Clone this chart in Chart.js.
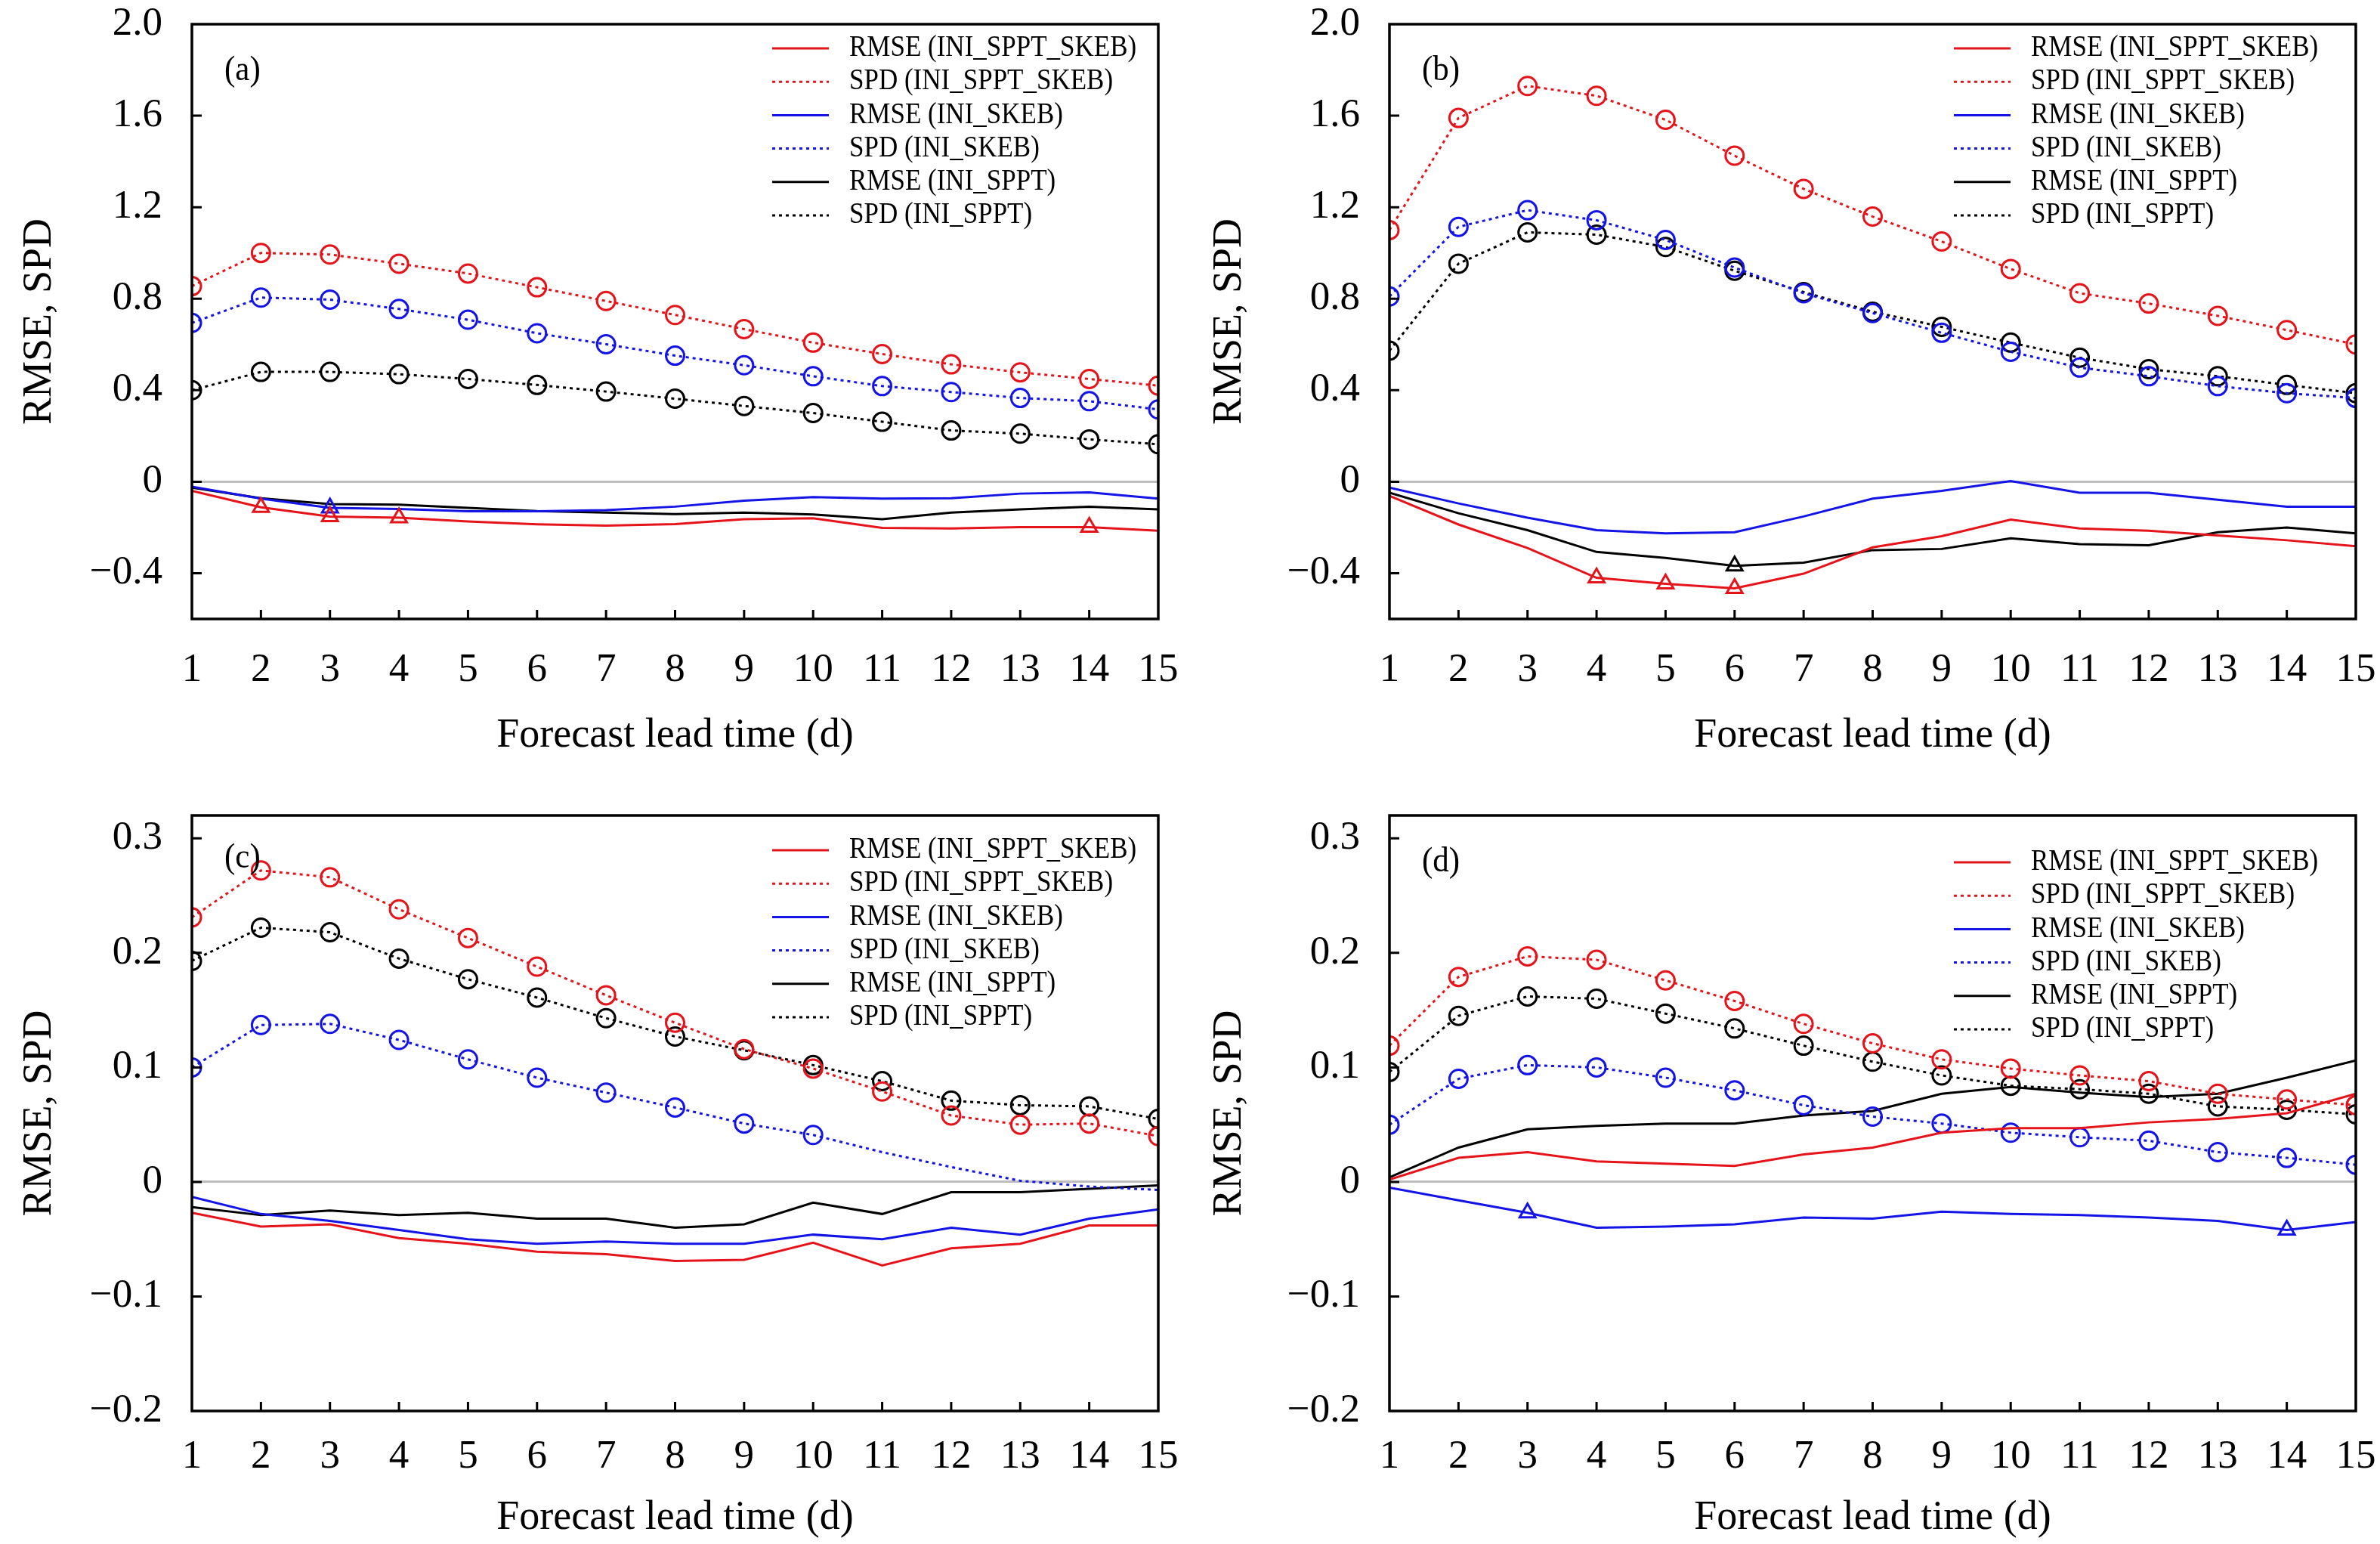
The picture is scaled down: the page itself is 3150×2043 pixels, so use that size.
<!DOCTYPE html>
<html>
<head>
<meta charset="utf-8">
<script src="https://cdn.jsdelivr.net/npm/chart.js@4.4.1/dist/chart.umd.min.js"></script>
<style>
  html, body { margin:0; padding:0; background:#fff; overflow:hidden; }
  canvas { position:absolute; }
</style>
</head>
<body>
<canvas id="pa" width="1575" height="1021" style="left:0;top:0"></canvas>
<canvas id="pb" width="1575" height="1021" style="left:1575px;top:0"></canvas>
<canvas id="pc" width="1575" height="1022" style="left:0;top:1021px"></canvas>
<canvas id="pd" width="1575" height="1022" style="left:1575px;top:1021px"></canvas>
<script>
/* ---------- data ---------- */
const leadDays = [1,2,3,4,5,6,7,8,9,10,11,12,13,14,15];
const seriesNames = ['RMSE (INI_SPPT_SKEB)','SPD (INI_SPPT_SKEB)','RMSE (INI_SKEB)','SPD (INI_SKEB)','RMSE (INI_SPPT)','SPD (INI_SPPT)'];

const yTicksTop = [-0.4, 0, 0.4, 0.8, 1.2, 1.6, 2.0];
const yRangeTop = [-0.6, 2.0];
const yTicksBottom = [-0.2, -0.1, 0, 0.1, 0.2, 0.3];
const yRangeBottom = [-0.2, 0.32];

// (a)
const aRmseSS = [-0.040,-0.112,-0.152,-0.157,-0.174,-0.186,-0.192,-0.185,-0.164,-0.160,-0.202,-0.204,-0.199,-0.199,-0.214];
const aSpdSS  = [0.855,1.000,0.993,0.953,0.910,0.850,0.790,0.729,0.667,0.608,0.558,0.513,0.478,0.449,0.420];
const aRmseS  = [-0.022,-0.074,-0.114,-0.119,-0.129,-0.129,-0.124,-0.109,-0.083,-0.067,-0.074,-0.072,-0.052,-0.047,-0.074];
const aSpdS   = [0.694,0.805,0.796,0.755,0.708,0.649,0.601,0.551,0.509,0.461,0.418,0.392,0.366,0.352,0.316];
const aRmseP  = [-0.026,-0.072,-0.098,-0.100,-0.114,-0.128,-0.135,-0.142,-0.135,-0.143,-0.164,-0.135,-0.121,-0.109,-0.121];
const aSpdP   = [0.400,0.480,0.480,0.470,0.449,0.423,0.394,0.363,0.331,0.300,0.262,0.224,0.210,0.185,0.164];

// (b)
const bRmseSS = [-0.062,-0.187,-0.290,-0.420,-0.446,-0.466,-0.402,-0.287,-0.238,-0.166,-0.204,-0.214,-0.235,-0.256,-0.282];
const bSpdSS  = [1.100,1.590,1.730,1.687,1.582,1.425,1.280,1.159,1.050,0.930,0.824,0.779,0.725,0.663,0.600];
const bRmseS  = [-0.026,-0.095,-0.157,-0.212,-0.226,-0.221,-0.152,-0.074,-0.040,0.003,-0.048,-0.048,-0.079,-0.109,-0.109];
const bSpdS   = [0.810,1.114,1.187,1.143,1.057,0.936,0.824,0.737,0.651,0.568,0.499,0.461,0.418,0.387,0.366];
const bRmseP  = [-0.048,-0.138,-0.212,-0.307,-0.333,-0.368,-0.354,-0.299,-0.294,-0.247,-0.273,-0.278,-0.221,-0.200,-0.226];
const bSpdP   = [0.573,0.953,1.090,1.080,1.026,0.922,0.829,0.743,0.677,0.608,0.542,0.492,0.461,0.423,0.387];

// (c)
const cRmseSS = [-0.027,-0.039,-0.037,-0.049,-0.054,-0.061,-0.063,-0.069,-0.068,-0.053,-0.073,-0.058,-0.054,-0.038,-0.038];
const cSpdSS  = [0.231,0.272,0.266,0.238,0.213,0.188,0.163,0.139,0.116,0.099,0.079,0.058,0.050,0.051,0.040];
const cRmseS  = [-0.013,-0.028,-0.034,-0.042,-0.050,-0.054,-0.052,-0.054,-0.054,-0.046,-0.050,-0.040,-0.046,-0.032,-0.024];
const cSpdS   = [0.100,0.137,0.138,0.124,0.107,0.091,0.078,0.065,0.051,0.041,0.026,0.013,0.001,-0.004,-0.007];
const cRmseP  = [-0.022,-0.029,-0.025,-0.029,-0.027,-0.032,-0.032,-0.040,-0.037,-0.018,-0.028,-0.009,-0.009,-0.006,-0.003];
const cSpdP   = [0.193,0.222,0.218,0.195,0.177,0.161,0.143,0.127,0.115,0.102,0.088,0.071,0.067,0.066,0.055];

// (d)
const dRmseSS = [0.002,0.021,0.026,0.018,0.016,0.014,0.024,0.030,0.043,0.047,0.047,0.052,0.055,0.060,0.077];
const dSpdSS  = [0.119,0.179,0.197,0.194,0.176,0.158,0.138,0.121,0.107,0.099,0.093,0.088,0.077,0.072,0.067];
const dRmseS  = [-0.005,-0.016,-0.027,-0.040,-0.039,-0.037,-0.031,-0.032,-0.026,-0.028,-0.029,-0.031,-0.034,-0.042,-0.035];
const dSpdS   = [0.050,0.090,0.102,0.100,0.091,0.080,0.067,0.057,0.051,0.043,0.039,0.036,0.026,0.021,0.015];
const dRmseP  = [0.004,0.030,0.046,0.049,0.051,0.051,0.058,0.062,0.077,0.083,0.078,0.074,0.077,0.091,0.106];
const dSpdP   = [0.096,0.145,0.162,0.160,0.147,0.134,0.119,0.105,0.093,0.084,0.081,0.077,0.066,0.063,0.059];

// lead days marked with a triangle on RMSE curves
const aSigSS = [2,3,4,14];
const aSigS  = [3];
const bSigSS = [4,5,6];
const bSigP  = [6];
const dSigS  = [3,14];
// lead days where SPD circles are shown in (c) for INI_SKEB
const cCircS = [1,2,3,4,5,6,7,8,9,10];

/* ---------- style ---------- */
const RED = '#e5141b', BLUE = '#1414e6', BLACK = '#000';
const FONT = "'Liberation Serif', 'Times New Roman', serif";
const DOT = [4,5];

function rmseSet(i, data, color, sig){
  return {
    label: seriesNames[i], data, borderColor: color, backgroundColor: 'rgba(0,0,0,0)',
    borderWidth: 3, tension: 0, clip: 0,
    pointStyle: 'triangle', pointBorderWidth: 3, pointBorderColor: color,
    pointBackgroundColor: 'rgba(0,0,0,0)',
    pointRadius: c => (sig || []).includes(leadDays[c.dataIndex]) ? 12 : 0
  };
}
function spdSet(i, data, color, shown){
  return {
    label: seriesNames[i], data, borderColor: color, backgroundColor: 'rgba(0,0,0,0)',
    borderWidth: 3, borderDash: DOT, tension: 0, clip: 0,
    pointStyle: 'circle', pointBorderWidth: 3, pointBorderColor: color,
    pointBackgroundColor: 'rgba(0,0,0,0)',
    pointRadius: c => (!shown || shown.includes(leadDays[c.dataIndex])) ? 12 : 0
  };
}

// text a little taller than wide, like the original figure
function tallText(ctx, s, x, y, stretch){
  ctx.save();
  ctx.translate(x, y);
  ctx.scale(1, stretch);
  ctx.fillText(s, 0, 0);
  ctx.restore();
}

const framePlugin = {
  id: 'frame',
  afterDraw(chart, args, o){
    const {ctx, chartArea: a, scales: {x, y}} = chart;
    ctx.save();
    ctx.strokeStyle = '#000';
    ctx.lineWidth = 3.5;
    ctx.strokeRect(a.left, a.top, a.right - a.left, a.bottom - a.top);
    ctx.lineWidth = 3;
    ctx.beginPath();
    x.ticks.forEach((t, i) => {
      if (i === 0 || i === x.ticks.length - 1) return;
      const px = x.getPixelForTick(i);
      ctx.moveTo(px, a.bottom); ctx.lineTo(px, a.bottom - 12);
    });
    y.ticks.forEach(t => {
      const py = y.getPixelForValue(t.value);
      if (py <= a.top + 1 || py >= a.bottom - 1) return;
      ctx.moveTo(a.left, py); ctx.lineTo(a.left + 13, py);
    });
    ctx.stroke();

    // panel tag
    ctx.fillStyle = '#000';
    ctx.font = '43px ' + FONT;
    ctx.textAlign = 'left';
    ctx.textBaseline = 'middle';
    tallText(ctx, o.tag, a.left + 43, a.top + o.tagY, 1.1);

    // legend
    ctx.font = '35px ' + FONT;
    chart.data.datasets.forEach((ds, i) => {
      const yy = a.top + o.legY + i * 44.2;
      ctx.strokeStyle = ds.borderColor;
      ctx.lineWidth = 3;
      ctx.setLineDash(ds.borderDash || []);
      ctx.beginPath();
      ctx.moveTo(a.left + o.legX, yy); ctx.lineTo(a.left + o.legX + 75, yy);
      ctx.stroke();
      ctx.setLineDash([]);
      tallText(ctx, ds.label, a.left + o.legX + 102, yy, 1.12);
    });
    ctx.restore();
  }
};

function fmt(v){ return v === 0 ? '0' : v.toFixed(1).replace('-', '\u2212'); }

function noEdgePad(s){ s.paddingTop = 0; s.paddingBottom = 0; s.paddingLeft = 0; s.paddingRight = 0; }

function makePanel(id, sets, top, opt){
  const yTicks = top ? yTicksTop : yTicksBottom;
  const yRange = top ? yRangeTop : yRangeBottom;
  new Chart(document.getElementById(id), {
    type: 'line',
    data: { labels: leadDays, datasets: sets },
    plugins: [framePlugin],
    options: {
      responsive: false, animation: false, devicePixelRatio: 1,
      layout: { padding: { left: 0, top: opt.padTop, right: opt.padRight, bottom: 0 } },
      plugins: { legend: { display: false }, tooltip: { enabled: false }, frame: opt },
      scales: {
        x: {
          type: 'category', offset: false,
          grid: { display: false, drawTicks: false },
          border: { display: false },
          ticks: { color: '#000', font: { family: FONT, size: 53 }, padding: opt.xPad, maxRotation: 0, autoSkip: false },
          title: { display: true, text: 'Forecast lead time (d)', color: '#000',
                   font: { family: FONT, size: 54 }, padding: { top: 0, bottom: opt.titlePad } },
          afterFit: s => { s.height = opt.xHeight; noEdgePad(s); }
        },
        y: {
          min: yRange[0], max: yRange[1],
          afterBuildTicks: s => { s.ticks = yTicks.map(v => ({ value: v })); },
          grid: { drawTicks: false, lineWidth: 3,
                  color: c => (c.tick && c.tick.value === 0) ? '#bdbdbd' : 'rgba(0,0,0,0)' },
          border: { display: false },
          ticks: { color: '#000', font: { family: FONT, size: 53 }, padding: 39, autoSkip: false,
                   callback: v => fmt(v) },
          title: { display: true, text: 'RMSE, SPD', color: '#000',
                   font: { family: FONT, size: 54 }, padding: { top: 20, bottom: 0 } },
          afterFit: s => { s.width = opt.yWidth; noEdgePad(s); }
        }
      }
    }
  });
}

makePanel('pa', [
  rmseSet(0, aRmseSS, RED, aSigSS), spdSet(1, aSpdSS, RED),
  rmseSet(2, aRmseS, BLUE, aSigS),  spdSet(3, aSpdS, BLUE),
  rmseSet(4, aRmseP, BLACK, null),  spdSet(5, aSpdP, BLACK)
], true, { tag:'(a)', tagY:62, legX:768, legY:32, padTop:32, padRight:42, yWidth:254, xHeight:202, xPad:36, titlePad:15 });

makePanel('pb', [
  rmseSet(0, bRmseSS, RED, bSigSS), spdSet(1, bSpdSS, RED),
  rmseSet(2, bRmseS, BLUE, null),   spdSet(3, bSpdS, BLUE),
  rmseSet(4, bRmseP, BLACK, bSigP), spdSet(5, bSpdP, BLACK)
], true, { tag:'(b)', tagY:62, legX:747, legY:32, padTop:32, padRight:32, yWidth:264, xHeight:202, xPad:36, titlePad:15 });

makePanel('pc', [
  rmseSet(0, cRmseSS, RED, null),  spdSet(1, cSpdSS, RED),
  rmseSet(2, cRmseS, BLUE, null),  spdSet(3, cSpdS, BLUE, cCircS),
  rmseSet(4, cRmseP, BLACK, null), spdSet(5, cSpdP, BLACK)
], false, { tag:'(c)', tagY:57, legX:768, legY:46, padTop:58, padRight:42, yWidth:254, xHeight:176, xPad:29, titlePad:2 });

makePanel('pd', [
  rmseSet(0, dRmseSS, RED, null),  spdSet(1, dSpdSS, RED),
  rmseSet(2, dRmseS, BLUE, dSigS), spdSet(3, dSpdS, BLUE),
  rmseSet(4, dRmseP, BLACK, null), spdSet(5, dSpdP, BLACK)
], false, { tag:'(d)', tagY:62, legX:747, legY:62, padTop:58, padRight:32, yWidth:264, xHeight:176, xPad:29, titlePad:2 });
</script>
</body>
</html>
